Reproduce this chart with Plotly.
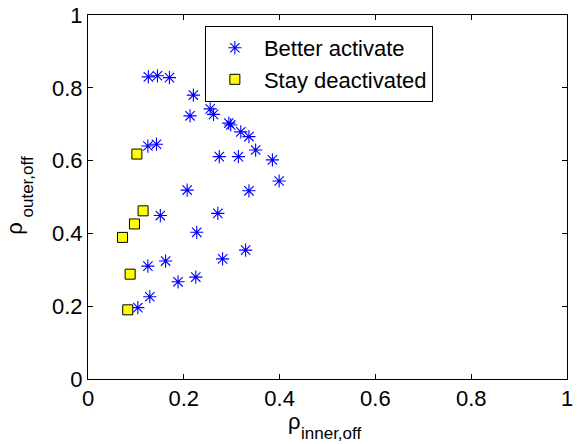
import plotly.graph_objects as go

# Better activate (blue stars)
act_x = [0.126, 0.145, 0.170, 0.220, 0.213, 0.255, 0.262, 0.294, 0.298, 0.319, 0.336,
         0.350, 0.385, 0.399, 0.125, 0.143, 0.274, 0.314, 0.207, 0.336, 0.151, 0.271,
         0.227, 0.329, 0.125, 0.162, 0.281, 0.188, 0.225, 0.129, 0.104]
act_y = [0.830, 0.833, 0.828, 0.780, 0.723, 0.742, 0.727, 0.703, 0.698, 0.679, 0.666,
         0.629, 0.602, 0.544, 0.640, 0.645, 0.611, 0.611, 0.519, 0.517, 0.449, 0.455,
         0.403, 0.354, 0.310, 0.324, 0.330, 0.267, 0.280, 0.226, 0.196]

# Stay deactivated (yellow squares)
deact_x = [0.102, 0.115, 0.097, 0.072, 0.088, 0.083]
deact_y = [0.618, 0.462, 0.426, 0.389, 0.288, 0.190]

ticks = [0, 0.2, 0.4, 0.6, 0.8, 1]
tick_text = ["0", "0.2", "0.4", "0.6", "0.8", "1"]

FONT = "Liberation Sans, Arial, sans-serif"

fig = go.Figure()
fig.add_trace(go.Scatter(
    x=act_x, y=act_y, mode="markers", name="Better activate",
    marker=dict(symbol="asterisk-open", size=11, color="#0000ff",
                line=dict(color="#0000ff", width=1.1)),
))
fig.add_trace(go.Scatter(
    x=deact_x, y=deact_y, mode="markers", name="Stay deactivated",
    marker=dict(symbol="square", size=10, color="#ffff00",
                line=dict(color="black", width=1)),
))

axis_common = dict(
    range=[0, 1], tickvals=ticks, ticktext=tick_text,
    ticks="inside", ticklen=5, tickwidth=1, tickcolor="black",
    showline=True, linecolor="black", linewidth=1, mirror="ticks",
    showgrid=False, zeroline=False, automargin=False,
    tickfont=dict(family=FONT, size=22, color="black"),
)

RHO = 22
SUB = 17
annotations = [
    # x-axis label: rho with subscript
    dict(text="ρ", xref="paper", yref="paper", x=0.431, y=-0.118,
         xanchor="center", yanchor="middle", showarrow=False, borderpad=0,
         font=dict(family=FONT, size=RHO, color="black")),
    dict(text="inner,off", xref="paper", yref="paper", x=0.4426, y=-0.1786,
         xanchor="left", yanchor="bottom", showarrow=False, borderpad=0,
         font=dict(family=FONT, size=SUB, color="black")),
    # y-axis label: rho with subscript (rotated)
    dict(text="ρ", xref="paper", yref="paper", x=-0.153, y=0.415,
         xanchor="center", yanchor="middle", showarrow=False, borderpad=0,
         textangle=-90, font=dict(family=FONT, size=RHO, color="black")),
    dict(text="outer,off", xref="paper", yref="paper", x=-0.127, y=0.44,
         xanchor="center", yanchor="bottom", showarrow=False, borderpad=0,
         textangle=-90, font=dict(family=FONT, size=SUB, color="black")),
]

fig.update_layout(
    width=577, height=444,
    margin=dict(l=88, r=10, t=15, b=65, autoexpand=False),
    paper_bgcolor="white", plot_bgcolor="white",
    font=dict(family=FONT, color="black"),
    xaxis=axis_common,
    yaxis=axis_common,
    annotations=annotations,
    legend=dict(
        x=0.244, y=0.970, xanchor="left", yanchor="top",
        bgcolor="white", bordercolor="black", borderwidth=1,
        font=dict(family=FONT, size=22, color="black"),
        itemwidth=48, tracegroupgap=0,
    ),
    showlegend=True,
)

fig.write_html("out.html")
